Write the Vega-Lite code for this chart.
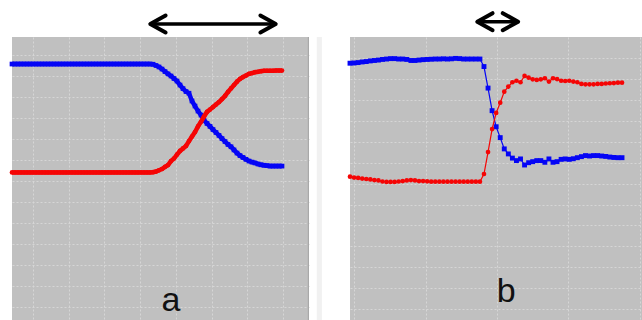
{
  "$schema": "https://vega.github.io/schema/vega-lite/v6.json",
  "background": "white",
  "padding": {"left": 3, "top": 11, "right": 0, "bottom": 0},
  "bounds": "flush",
  "spacing": 41,
  "config": {
    "view": {"fill": "#c0c0c0", "stroke": null},
    "axis": {"grid": true, "labels": false, "ticks": false, "domain": false, "title": null, "minExtent": 0, "maxExtent": 0, "offset": 0, "gridColor": "#d6d6d6", "gridDash": [2, 2], "gridWidth": 1}
  },
  "datasets": {
    "a": [
      {"t":0,"blue":11.57,"red":6.41},{"t":1,"blue":11.57,"red":6.41},{"t":2,"blue":11.57,"red":6.41},{"t":3,"blue":11.57,"red":6.41},{"t":4,"blue":11.57,"red":6.41},{"t":5,"blue":11.57,"red":6.41},{"t":6,"blue":11.57,"red":6.41},{"t":7,"blue":11.57,"red":6.41},{"t":8,"blue":11.57,"red":6.41},{"t":9,"blue":11.57,"red":6.41},
      {"t":10,"blue":11.57,"red":6.41},{"t":11,"blue":11.57,"red":6.41},{"t":12,"blue":11.57,"red":6.41},{"t":13,"blue":11.57,"red":6.41},{"t":14,"blue":11.57,"red":6.41},{"t":15,"blue":11.57,"red":6.41},{"t":16,"blue":11.57,"red":6.41},{"t":17,"blue":11.57,"red":6.41},{"t":18,"blue":11.57,"red":6.41},{"t":19,"blue":11.57,"red":6.41},
      {"t":20,"blue":11.57,"red":6.41},{"t":21,"blue":11.57,"red":6.41},{"t":22,"blue":11.57,"red":6.41},{"t":23,"blue":11.57,"red":6.41},{"t":24,"blue":11.57,"red":6.41},{"t":25,"blue":11.57,"red":6.41},{"t":26,"blue":11.57,"red":6.41},{"t":27,"blue":11.57,"red":6.41},{"t":28,"blue":11.57,"red":6.41},{"t":29,"blue":11.57,"red":6.41},
      {"t":30,"blue":11.57,"red":6.41},{"t":31,"blue":11.57,"red":6.41},{"t":32,"blue":11.57,"red":6.41},{"t":33,"blue":11.57,"red":6.41},{"t":34,"blue":11.57,"red":6.41},{"t":35,"blue":11.57,"red":6.41},{"t":36,"blue":11.57,"red":6.41},{"t":37,"blue":11.57,"red":6.41},{"t":38,"blue":11.57,"red":6.41},{"t":39,"blue":11.57,"red":6.41},
      {"t":40,"blue":11.57,"red":6.41},{"t":41,"blue":11.57,"red":6.41},{"t":42,"blue":11.57,"red":6.41},{"t":43,"blue":11.57,"red":6.41},{"t":44,"blue":11.57,"red":6.41},{"t":45,"blue":11.57,"red":6.41},{"t":46,"blue":11.57,"red":6.41},
      {"t":47,"blue":11.56,"red":6.42},{"t":48,"blue":11.50,"red":6.45},{"t":49,"blue":11.43,"red":6.51},{"t":50,"blue":11.33,"red":6.57},{"t":51,"blue":11.21,"red":6.67},{"t":52,"blue":11.10,"red":6.76},{"t":53,"blue":11.00,"red":6.95},{"t":54,"blue":10.88,"red":7.07},{"t":55,"blue":10.76,"red":7.26},{"t":56,"blue":10.57,"red":7.43},
      {"t":57,"blue":10.40,"red":7.55},{"t":58,"blue":10.26,"red":7.67},{"t":59,"blue":10.18,"red":7.90},{"t":60,"blue":9.81,"red":8.12},{"t":61,"blue":9.57,"red":8.33},{"t":62,"blue":9.33,"red":8.60},{"t":63,"blue":9.14,"red":8.82},{"t":64,"blue":8.90,"red":9.07},{"t":65,"blue":8.74,"red":9.29},{"t":66,"blue":8.60,"red":9.40},
      {"t":67,"blue":8.45,"red":9.52},{"t":68,"blue":8.31,"red":9.64},{"t":69,"blue":8.17,"red":9.76},{"t":70,"blue":8.02,"red":9.90},{"t":71,"blue":7.88,"red":10.05},{"t":72,"blue":7.74,"red":10.24},{"t":73,"blue":7.63,"red":10.41},{"t":74,"blue":7.48,"red":10.57},{"t":75,"blue":7.33,"red":10.73},{"t":76,"blue":7.21,"red":10.86},
      {"t":77,"blue":7.12,"red":10.95},{"t":78,"blue":7.03,"red":11.02},{"t":79,"blue":6.95,"red":11.10},{"t":80,"blue":6.90,"red":11.14},{"t":81,"blue":6.86,"red":11.18},{"t":82,"blue":6.81,"red":11.20},{"t":83,"blue":6.77,"red":11.23},{"t":84,"blue":6.75,"red":11.25},{"t":85,"blue":6.73,"red":11.25},{"t":86,"blue":6.71,"red":11.25},
      {"t":87,"blue":6.71,"red":11.25},{"t":88,"blue":6.71,"red":11.26},{"t":89,"blue":6.71,"red":11.26},{"t":90,"blue":6.71,"red":11.26}
    ],
    "b": [
      {"i":0,"blue":11.76,"red":6.33},{"i":1,"blue":11.77,"red":6.29},{"i":2,"blue":11.79,"red":6.27},{"i":3,"blue":11.82,"red":6.24},{"i":4,"blue":11.84,"red":6.22},{"i":5,"blue":11.87,"red":6.20},{"i":6,"blue":11.89,"red":6.17},{"i":7,"blue":11.91,"red":6.15},{"i":8,"blue":11.94,"red":6.10},{"i":9,"blue":11.96,"red":6.08},
      {"i":10,"blue":11.98,"red":6.08},{"i":11,"blue":11.98,"red":6.08},{"i":12,"blue":11.96,"red":6.10},{"i":13,"blue":11.96,"red":6.12},{"i":14,"blue":11.94,"red":6.15},{"i":15,"blue":11.89,"red":6.17},{"i":16,"blue":11.89,"red":6.15},{"i":17,"blue":11.91,"red":6.12},{"i":18,"blue":11.93,"red":6.12},{"i":19,"blue":11.94,"red":6.11},
      {"i":20,"blue":11.95,"red":6.09},{"i":21,"blue":11.96,"red":6.09},{"i":22,"blue":11.96,"red":6.09},{"i":23,"blue":11.97,"red":6.09},{"i":24,"blue":11.96,"red":6.09},{"i":25,"blue":11.97,"red":6.09},{"i":26,"blue":11.99,"red":6.09},{"i":27,"blue":11.98,"red":6.09},{"i":28,"blue":11.96,"red":6.09},{"i":29,"blue":11.96,"red":6.09},
      {"i":30,"blue":11.96,"red":6.09},{"i":31,"blue":11.96,"red":6.09},{"i":32,"blue":11.96,"red":6.09},{"i":33,"blue":11.60,"red":6.46},{"i":34,"blue":10.57,"red":7.51},{"i":35,"blue":9.49,"red":8.61},{"i":36,"blue":8.72,"red":9.38},{"i":37,"blue":8.20,"red":9.87},{"i":38,"blue":7.66,"red":10.40},{"i":39,"blue":7.42,"red":10.64},
      {"i":40,"blue":7.22,"red":10.85},{"i":41,"blue":7.10,"red":10.92},{"i":42,"blue":7.18,"red":10.85},{"i":43,"blue":6.89,"red":11.15},{"i":44,"blue":7.00,"red":11.07},{"i":45,"blue":7.05,"red":10.99},{"i":46,"blue":7.10,"red":10.96},{"i":47,"blue":7.10,"red":10.99},{"i":48,"blue":7.02,"red":11.04},{"i":49,"blue":7.18,"red":10.88},
      {"i":50,"blue":7.02,"red":11.04},{"i":51,"blue":7.05,"red":11.00},{"i":52,"blue":7.16,"red":10.92},{"i":53,"blue":7.18,"red":10.91},{"i":54,"blue":7.16,"red":10.92},{"i":55,"blue":7.19,"red":10.88},{"i":56,"blue":7.24,"red":10.85},{"i":57,"blue":7.29,"red":10.77},{"i":58,"blue":7.34,"red":10.75},{"i":59,"blue":7.32,"red":10.75},
      {"i":60,"blue":7.34,"red":10.75},{"i":61,"blue":7.34,"red":10.77},{"i":62,"blue":7.32,"red":10.77},{"i":63,"blue":7.30,"red":10.79},{"i":64,"blue":7.27,"red":10.80},{"i":65,"blue":7.25,"red":10.81},{"i":66,"blue":7.24,"red":10.83},{"i":67,"blue":7.24,"red":10.83}
    ]
  },
  "hconcat": [
    {
      "width": 297,
      "height": 283,
      "encoding": {
        "x": {"type": "quantitative", "scale": {"domain": [0, 99], "nice": false, "zero": false}, "axis": {"values": [7, 18.9, 30.8, 42.7, 54.6, 66.5, 78.4, 90.3]}},
        "y": {"type": "quantitative", "scale": {"domain": [-0.619, 12.857], "nice": false, "zero": false}, "axis": {"values": [0, 1, 2, 3, 4, 5, 6, 7, 8, 9, 10, 11, 12]}}
      },
      "layer": [
        {"data": {"values": [{"edge": "frame"}]}, "mark": {"type": "rule", "color": "#a9a9a9", "strokeWidth": 1.2}, "encoding": {"x": {"datum": 98.8}, "y": {"datum": -0.619}, "y2": {"datum": 12.857}}},
        {"data": {"values": [{"edge": "strip"}]}, "mark": {"type": "rect", "color": "#f1f1f1"}, "encoding": {"x": {"datum": 101.6}, "x2": {"datum": 103.3}, "y": {"datum": -0.619}, "y2": {"datum": 12.857}}},
        {"data": {"name": "a"}, "mark": {"type": "line", "color": "#0505f5", "strokeWidth": 4.5}, "encoding": {"x": {"field": "t"}, "y": {"field": "blue"}}},
        {"data": {"name": "a"}, "mark": {"type": "point", "shape": "square", "filled": true, "opacity": 1, "color": "#0505f5", "size": 22}, "encoding": {"x": {"field": "t"}, "y": {"field": "blue"}}},
        {"data": {"name": "a"}, "mark": {"type": "line", "color": "#f50505", "strokeWidth": 4.5}, "encoding": {"x": {"field": "t"}, "y": {"field": "red"}}},
        {"data": {"name": "a"}, "mark": {"type": "point", "shape": "circle", "filled": true, "opacity": 1, "color": "#f50505", "size": 22}, "encoding": {"x": {"field": "t"}, "y": {"field": "red"}}},
        {"data": {"values": [{"label": "a"}]}, "mark": {"type": "text", "font": "Liberation Sans", "fontSize": 34, "color": "#111111", "align": "center", "baseline": "alphabetic"}, "encoding": {"x": {"datum": 53}, "y": {"datum": -0.21}, "text": {"field": "label"}}},
        {"data": {"values": [{"span": "transition"}]}, "mark": {"type": "rule", "color": "black", "strokeWidth": 3.5}, "encoding": {"x": {"datum": 46.1}, "x2": {"datum": 87.9}, "y": {"datum": 13.476}}},
        {"data": {"values": [{"span": "transition"}]}, "mark": {"type": "point", "shape": "M1.8,-1L0,0L1.8,1", "filled": false, "opacity": 1, "color": "black", "strokeWidth": 4, "strokeJoin": "round", "strokeCap": "round", "size": 289}, "encoding": {"x": {"datum": 46.1}, "y": {"datum": 13.476}}},
        {"data": {"values": [{"span": "transition"}]}, "mark": {"type": "point", "shape": "M-1.8,-1L0,0L-1.8,1", "filled": false, "opacity": 1, "color": "black", "strokeWidth": 4, "strokeJoin": "round", "strokeCap": "round", "size": 289}, "encoding": {"x": {"datum": 87.9}, "y": {"datum": 13.476}}}
      ]
    },
    {
      "width": 293,
      "height": 283,
      "encoding": {
        "x": {"type": "quantitative", "scale": {"domain": [0, 72.17], "nice": false, "zero": false}, "axis": {"values": [1, 18.6, 36.2, 53.8, 71.4]}},
        "y": {"type": "quantitative", "scale": {"domain": [-0.526, 13.014], "nice": false, "zero": false}, "axis": {"values": [0, 1, 2, 3, 4, 5, 6, 7, 8, 9, 10, 11, 12]}}
      },
      "layer": [
        {"data": {"name": "b"}, "mark": {"type": "line", "color": "#0505f5", "strokeWidth": 1.2}, "encoding": {"x": {"field": "i"}, "y": {"field": "blue"}}},
        {"data": {"name": "b"}, "mark": {"type": "point", "shape": "square", "filled": true, "opacity": 1, "color": "#0505f5", "size": 24}, "encoding": {"x": {"field": "i"}, "y": {"field": "blue"}}},
        {"data": {"name": "b"}, "mark": {"type": "line", "color": "#f50505", "strokeWidth": 1.2}, "encoding": {"x": {"field": "i"}, "y": {"field": "red"}}},
        {"data": {"name": "b"}, "mark": {"type": "point", "shape": "circle", "filled": true, "opacity": 1, "color": "#f50505", "size": 22}, "encoding": {"x": {"field": "i"}, "y": {"field": "red"}}},
        {"data": {"values": [{"label": "b"}]}, "mark": {"type": "text", "font": "Liberation Sans", "fontSize": 34, "color": "#111111", "align": "center", "baseline": "alphabetic"}, "encoding": {"x": {"datum": 38.5}, "y": {"datum": 0.33}, "text": {"field": "label"}}},
        {"data": {"values": [{"span": "transition"}]}, "mark": {"type": "rule", "color": "black", "strokeWidth": 3.5}, "encoding": {"x": {"datum": 31.35}, "x2": {"datum": 41.4}, "y": {"datum": 13.746}}},
        {"data": {"values": [{"span": "transition"}]}, "mark": {"type": "point", "shape": "M1.8,-1L0,0L1.8,1", "filled": false, "opacity": 1, "color": "black", "strokeWidth": 4, "strokeJoin": "round", "strokeCap": "round", "size": 289}, "encoding": {"x": {"datum": 31.35}, "y": {"datum": 13.746}}},
        {"data": {"values": [{"span": "transition"}]}, "mark": {"type": "point", "shape": "M-1.8,-1L0,0L-1.8,1", "filled": false, "opacity": 1, "color": "black", "strokeWidth": 4, "strokeJoin": "round", "strokeCap": "round", "size": 289}, "encoding": {"x": {"datum": 41.4}, "y": {"datum": 13.746}}}
      ]
    }
  ]
}
